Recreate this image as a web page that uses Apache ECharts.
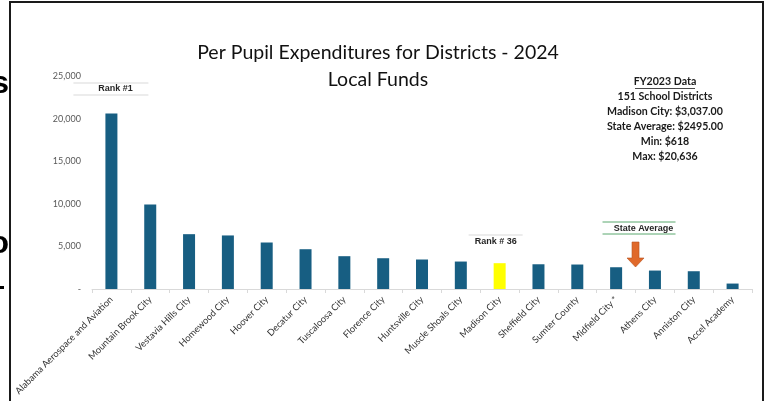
<!DOCTYPE html>
<html><head><meta charset="utf-8">
<script src="https://cdn.jsdelivr.net/npm/echarts@6/dist/echarts.min.js"></script>
<style>html,body{margin:0;padding:0;background:#fff}#c{width:768px;height:401px}</style>
</head><body><div id="c"></div>
<script>
const categories = ["Alabama Aerospace and Aviation","Mountain Brook City","Vestavia Hills City","Homewood City","Hoover City","Decatur City","Tuscaloosa City","Florence City","Huntsville City","Muscle Shoals City","Madison City","Sheffield City","Sumter County","Midfield City *","Athens City","Anniston City","Accel Academy"];
const values = [20636,9950,6450,6300,5470,4680,3860,3620,3470,3230,3037,2910,2880,2560,2170,2090,640];
const highlightName = "Madison City";
const yTicks = [0,5000,10000,15000,20000,25000];
const titleLines = ["Per Pupil Expenditures for Districts - 2024","Local Funds"];
const infoLines = ["FY2023 Data","151 School Districts","Madison City: $3,037.00","State Average: $2495.00","Min: $618","Max: $20,636"];

const chart = echarts.init(document.getElementById('c'), null, {renderer:'canvas'});
const barColor = '#175e82';
chart.setOption({
  animation:false,
  backgroundColor:'#fff',
  grid:{left:92,right:16,top:76.5,bottom:112,containLabel:false},
  xAxis:{type:'category',data:categories,
    axisLine:{lineStyle:{color:'#d9d9d9',width:1}},
    axisTick:{show:true,alignWithLabel:false,length:4,lineStyle:{color:'#d9d9d9'}},
    axisLabel:{rotate:45,interval:0,fontFamily:'Lato',fontSize:9.3,color:'#333333',margin:9}},
  yAxis:{type:'value',min:0,max:25000,interval:5000,
    splitLine:{show:false},axisLine:{show:false},axisTick:{show:false},
    axisLabel:{fontFamily:'Lato',fontSize:9,color:'#595959',margin:11,
      formatter:v=> v===0 ? '-' : v.toLocaleString('en-US')}},
  series:[{type:'bar',barWidth:12,
    data:values.map((v,i)=>({value:v,itemStyle:{color: categories[i]===highlightName ? '#ffff00' : barColor}}))}]
});

const px = (name)=>chart.convertToPixel({xAxisIndex:0},name);
const x1 = px(categories[0]);
const xM = px(highlightName);
const xMid = (px("Midfield City *")+px("Athens City"))/2;
const g = [];
// frame
g.push({type:'rect',shape:{x:10,y:2,width:753,height:420},style:{fill:null,stroke:'#1a1a1a',lineWidth:2},z:10});
// outside slide text fragments
g.push({type:'text',x:9,y:84,style:{text:'s',fontFamily:'Liberation Sans',fontWeight:'bold',fontSize:32,fill:'#000',align:'right',verticalAlign:'middle'}});
g.push({type:'text',x:9,y:244,style:{text:'o',fontFamily:'Liberation Sans',fontWeight:'bold',fontSize:32,fill:'#000',align:'right',verticalAlign:'middle'}});
g.push({type:'rect',shape:{x:0,y:286,width:4,height:3},style:{fill:'#000'}});
// title
titleLines.forEach((t,i)=>g.push({type:'text',x:378,y:53+i*27,style:{text:t,fontFamily:'Lato',fontSize:19.5,fill:'#111',align:'center',verticalAlign:'middle'}}));
// info box
infoLines.forEach((t,i)=>g.push({type:'text',x:665,y:82+i*15,style:{text:t,fontFamily:'Lato',fontWeight:'bold',fontSize:10.6,fill:'#1a1a1a',align:'center',verticalAlign:'middle'}}));
g.push({type:'line',shape:{x1:635,y1:88.5,x2:695,y2:88.5},style:{stroke:'#1a1a1a',lineWidth:0.8}});
// Rank #1
g.push({type:'line',shape:{x1:x1-38,y1:83,x2:x1+37,y2:83},style:{stroke:'#d9d9d9',lineWidth:1}});
g.push({type:'line',shape:{x1:x1-38,y1:95,x2:x1+37,y2:95},style:{stroke:'#d9d9d9',lineWidth:1}});
g.push({type:'text',x:x1+4,y:89,style:{text:'Rank #1',fontFamily:'Liberation Sans',fontWeight:'bold',fontSize:9,fill:'#262626',align:'center',verticalAlign:'middle'}});
// Rank # 36
g.push({type:'line',shape:{x1:xM-31,y1:235,x2:xM+23,y2:235},style:{stroke:'#d9d9d9',lineWidth:1}});
g.push({type:'text',x:xM-4,y:242,style:{text:'Rank # 36',fontFamily:'Liberation Sans',fontWeight:'bold',fontSize:9,fill:'#262626',align:'center',verticalAlign:'middle'}});
// State Average
g.push({type:'line',shape:{x1:xMid-33,y1:222,x2:xMid+40,y2:222},style:{stroke:'#5aa86e',lineWidth:1}});
g.push({type:'line',shape:{x1:xMid-33,y1:234,x2:xMid+40,y2:234},style:{stroke:'#5aa86e',lineWidth:1}});
g.push({type:'text',x:xMid+8,y:229,style:{text:'State Average',fontFamily:'Liberation Sans',fontWeight:'bold',fontSize:9,fill:'#262626',align:'center',verticalAlign:'middle'}});
// arrow
g.push({type:'polygon',shape:{points:[[xMid-3.5,242],[xMid+3.5,242],[xMid+3.5,258],[xMid+8.5,258],[xMid,267],[xMid-8.5,258],[xMid-3.5,258]]},style:{fill:'#e0692a',stroke:'#b5521e',lineWidth:0.6}});
chart.setOption({graphic:g});
</script></body></html>
